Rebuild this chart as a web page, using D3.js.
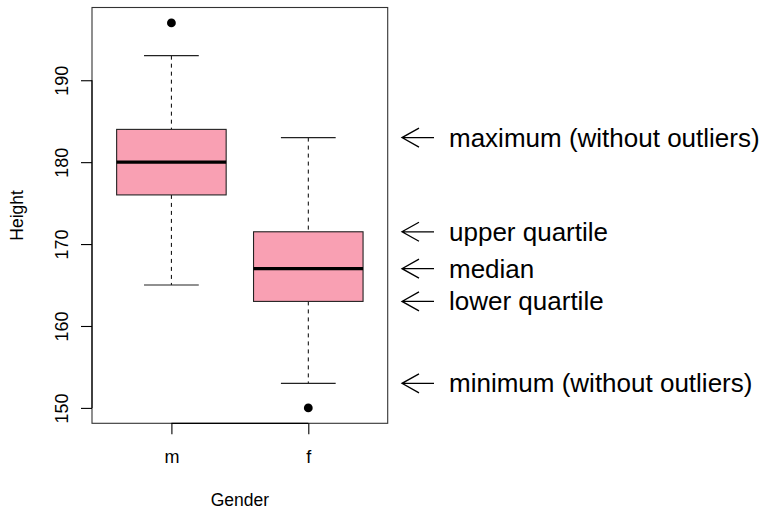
<!DOCTYPE html>
<html>
<head>
<meta charset="utf-8">
<script src="https://cdn.jsdelivr.net/npm/d3@7"></script>
<style>
  html, body { margin: 0; padding: 0; background: #fff; }
  svg { display: block; font-family: "Liberation Sans", Arial, Helvetica, sans-serif; }
</style>
</head>
<body>
<svg id="chart" width="761" height="509"></svg>
<script>
// ---- data ----
const groups = ["m", "f"];
const q1 = [176, 163];
const medians = [180, 167];
const q3 = [184, 171.5];
const whiskerLow = [165, 153];
const whiskerHigh = [193, 183];
const outliers = [[197], [150]];
const yTicks = [150, 160, 170, 180, 190];
const annLabels = ["maximum (without outliers)", "upper quartile", "median", "lower quartile", "minimum (without outliers)"];
const annValues = [183, 171.5, 167, 163, 153];
const xTitle = "Gender";
const yTitle = "Height";

// ---- layout ----
const svg = d3.select("#chart");
const plot = { left: 92, right: 387.7, top: 7.5, bottom: 423.3 };

const y = d3.scaleLinear().domain([148.12, 198.88]).range([plot.bottom, plot.top]);
const x = d3.scaleLinear().domain([0.42, 2.58]).range([plot.left, plot.right]);
const boxHalf = 0.4, capHalf = 0.2;
const pos = groups.map((g, i) => i + 1);

const boxFill = "#F9A0B3";

const g = svg.append("g");
groups.forEach((grp, i) => {
  const cx = x(pos[i]);
  g.append("line").attr("x1", cx).attr("x2", cx)
    .attr("y1", y(whiskerHigh[i])).attr("y2", y(q3[i]))
    .attr("stroke", "#000").attr("stroke-width", 1).attr("stroke-dasharray", "4,4");
  g.append("line").attr("x1", cx).attr("x2", cx)
    .attr("y1", y(q1[i])).attr("y2", y(whiskerLow[i]))
    .attr("stroke", "#000").attr("stroke-width", 1).attr("stroke-dasharray", "4,4");
  [whiskerHigh[i], whiskerLow[i]].forEach(v => {
    g.append("line")
      .attr("x1", x(pos[i] - capHalf)).attr("x2", x(pos[i] + capHalf))
      .attr("y1", y(v)).attr("y2", y(v))
      .attr("stroke", "#222").attr("stroke-width", 1.1);
  });
  g.append("rect")
    .attr("x", x(pos[i] - boxHalf)).attr("width", x(pos[i] + boxHalf) - x(pos[i] - boxHalf))
    .attr("y", y(q3[i])).attr("height", y(q1[i]) - y(q3[i]))
    .attr("fill", boxFill).attr("stroke", "#222").attr("stroke-width", 1.1);
  g.append("line")
    .attr("x1", x(pos[i] - boxHalf)).attr("x2", x(pos[i] + boxHalf))
    .attr("y1", y(medians[i])).attr("y2", y(medians[i]))
    .attr("stroke", "#000").attr("stroke-width", 3.2);
  outliers[i].forEach(v => {
    g.append("circle").attr("cx", cx).attr("cy", y(v)).attr("r", 4.4).attr("fill", "#000");
  });
});

// frame
svg.append("rect")
  .attr("x", plot.left).attr("y", plot.top)
  .attr("width", plot.right - plot.left).attr("height", plot.bottom - plot.top)
  .attr("fill", "none").attr("stroke", "#333").attr("stroke-width", 1.1);

// y axis
const yAxis = svg.append("g").attr("transform", `translate(${plot.left},0)`)
  .call(d3.axisLeft(y).tickValues(yTicks).tickSize(11).tickSizeOuter(0).tickFormat(d3.format("d")));
yAxis.select(".domain").attr("stroke", "#000").attr("stroke-width", 1.1)
  .attr("d", `M0,${y(yTicks[0])}V${y(yTicks[yTicks.length - 1])}`);
yAxis.selectAll(".tick line").attr("stroke", "#000").attr("stroke-width", 1.1);
yAxis.selectAll(".tick text")
  .attr("x", null).attr("dy", null)
  .attr("transform", "translate(-24,0) rotate(-90)")
  .attr("text-anchor", "middle")
  .attr("font-size", 18).attr("font-family", "Liberation Sans, Arial, sans-serif")
  .attr("fill", "#000");

// x axis
const xAxis = svg.append("g").attr("transform", `translate(0,${plot.bottom})`)
  .call(d3.axisBottom(x).tickValues(pos).tickSize(11).tickSizeOuter(0).tickFormat((d, i) => groups[i]));
xAxis.select(".domain").attr("stroke", "#000").attr("stroke-width", 1.3)
  .attr("d", `M${x(pos[0])},0H${x(pos[pos.length - 1])}`);
xAxis.selectAll(".tick line").attr("stroke", "#000").attr("stroke-width", 1.1);
xAxis.selectAll(".tick text")
  .attr("y", 40).attr("dy", null)
  .attr("font-size", 18).attr("font-family", "Liberation Sans, Arial, sans-serif")
  .attr("fill", "#000");

// axis titles
svg.append("text").attr("x", x(1.5)).attr("y", 506)
  .attr("text-anchor", "middle").attr("font-size", 17.5).text(xTitle);
svg.append("text").attr("transform", `translate(23,${(plot.top + plot.bottom) / 2}) rotate(-90)`)
  .attr("text-anchor", "middle").attr("font-size", 17.5).text(yTitle);

// annotations
const ann = svg.append("g");
annValues.forEach((v, i) => {
  const ay = y(v);
  const tipX = 402, tailX = 434;
  ann.append("path")
    .attr("d", `M${tailX},${ay}H${tipX}M${tipX + 17},${ay - 9.5}L${tipX},${ay}L${tipX + 17},${ay + 9.5}`)
    .attr("fill", "none").attr("stroke", "#000").attr("stroke-width", 1.3);
  ann.append("text").attr("x", 449).attr("y", ay + 9)
    .attr("font-size", 26).attr("fill", "#000").text(annLabels[i]);
});
</script>
</body>
</html>
